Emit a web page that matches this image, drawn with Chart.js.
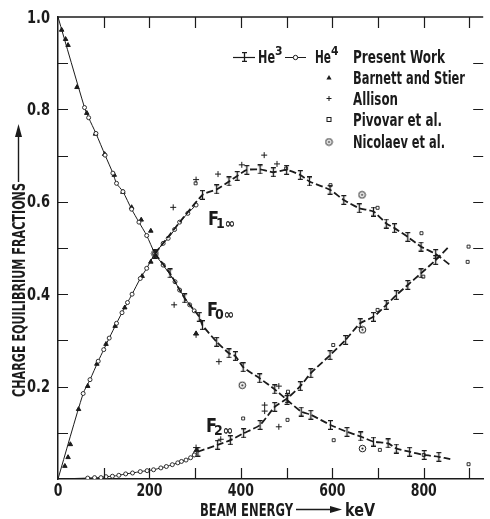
<!DOCTYPE html>
<html>
<head>
<meta charset="utf-8">
<script src="https://cdn.jsdelivr.net/npm/chart.js@4.4.1/dist/chart.umd.min.js"></script>
<style>
html,body{margin:0;padding:0;background:#fff}
#wrap{width:490px;height:519px;position:relative}
</style>
</head>
<body>
<div id="wrap"><canvas id="c"></canvas></div>
<script>
/* ===== charge equilibrium fractions vs beam energy ===== */
const FONT='"DejaVu Sans Condensed","Liberation Sans Narrow",sans-serif';
const INK='#1b1b1b';

// axes
const X_MIN=0, X_MAX=930, Y_MIN=0, Y_MAX=1.0;
const X_TICK_STEP=100, X_LABEL_STEP=200;
const Y_TICK_STEP=0.1, Y_LABEL_STEP=0.2;

// present work, He4 (open circles) -- first point is where the drawn curve starts
const he4F0=[[0,1.0],[58,0.804],[67,0.782],[83,0.748],[103,0.701],[120,0.662],[128,0.64],[142,0.622],[161,0.584],[177,0.556],[194,0.527],[212,0.488],[230,0.463],[256,0.427],[266,0.409],[288,0.377],[298,0.364]];
const he4F1=[[0,0],[55,0.185],[70,0.215],[88,0.255],[100,0.28],[112,0.305],[128,0.337],[140,0.36],[152,0.382],[162,0.40],[180,0.434],[194,0.456],[212,0.488],[230,0.51],[241,0.521],[255,0.54],[266,0.556],[284,0.575],[302,0.593]];
const he4F2=[[0,0],[65,0.002],[80,0.003],[94,0.003],[105,0.005],[119,0.006],[133,0.008],[148,0.011],[163,0.013],[180,0.016],[195,0.018],[209,0.02],[225,0.024],[237,0.027],[250,0.031],[262,0.035],[270,0.038],[280,0.041],[290,0.046],[298,0.052]];

// present work, He3 (error bars) -- last point is where the drawn curve ends
const he3F0=[[212,0.488],[245,0.445],[277,0.391],[309,0.351],[316,0.333],[347,0.297],[374,0.272],[388,0.266],[405,0.242],[441,0.218],[474,0.194],[501,0.171],[532,0.146],[553,0.139],[596,0.117],[632,0.102],[662,0.092],[690,0.081],[722,0.077],[740,0.066],[769,0.059],[801,0.052],[833,0.048],[858,0.043]];
const he3F1=[[212,0.488],[316,0.615],[347,0.627],[374,0.644],[392,0.656],[413,0.669],[442,0.67],[471,0.664],[500,0.669],[530,0.658],[550,0.644],[595,0.626],[625,0.604],[659,0.586],[690,0.579],[718,0.553],[736,0.543],[765,0.524],[794,0.503],[826,0.487],[858,0.463]];
const he3F2=[[306,0.059],[349,0.074],[377,0.084],[406,0.099],[442,0.117],[474,0.156],[502,0.175],[530,0.201],[553,0.229],[595,0.268],[629,0.301],[661,0.337],[690,0.351],[718,0.377],[740,0.398],[765,0.42],[794,0.445],[826,0.474],[855,0.503]];

// other work
const barnett=[[8,0.972],[16.6,0.952],[22,0.939],[41.5,0.848],[63,0.792],[82,0.747],[102,0.703],[123,0.658],[142,0.621],[161,0.588],[182,0.561],[203,0.537],
  [15,0.028],[22,0.047],[27,0.075],[45,0.151],[65,0.201],[85,0.249],[105,0.292],[125,0.331],[146,0.371],[184,0.439],[203,0.47],
  [302,0.315],[303,0.063]];
const allison=[[252,0.588],[302,0.648],[350,0.66],[402,0.68],[451,0.701],[479,0.682],
  [254,0.377],[302,0.312],[352,0.254],[483,0.201],[483,0.113],
  [302,0.068],[356,0.086],[452,0.16],[452,0.147]];
const pivovar=[[301,0.64],[499,0.672],[596,0.636],[699,0.587],[795,0.532],[898,0.503],
  [300,0.056],[405,0.131],[503,0.189],[602,0.29],[699,0.366],[799,0.438],[896,0.47],
  [502,0.128],[603,0.084],[704,0.063],[800,0.052],[898,0.032]];
const nicolaev=[[212,0.488],[665,0.615],[666,0.323],[403,0.203],[666,0.066]];

// legend rows
const legendRows=['Barnett and Stier','Allison','Pivovar et al.','Nicolaev et al.'];
const legendWidths=[112,45,89,92];

const xy=a=>a.map(p=>({x:p[0],y:p[1]}));

// marker glyphs
function markI(h){
  const c=document.createElement('canvas');c.width=7;c.height=h;
  const g=c.getContext('2d');g.strokeStyle=INK;g.lineWidth=1.3;
  g.beginPath();g.moveTo(3.5,0.7);g.lineTo(3.5,h-0.7);
  g.moveTo(1,0.7);g.lineTo(6,0.7);g.moveTo(1,h-0.7);g.lineTo(6,h-0.7);g.stroke();
  return c;
}
function markDotCircle(){
  const c=document.createElement('canvas');c.width=9;c.height=9;
  const g=c.getContext('2d');g.strokeStyle=INK;g.fillStyle=INK;g.lineWidth=1;
  g.beginPath();g.arc(4.5,4.5,3.3,0,Math.PI*2);g.stroke();
  g.beginPath();g.arc(4.5,4.5,1.1,0,Math.PI*2);g.fill();
  return c;
}
const I_MARK=markI(10), NIC_MARK=markDotCircle();

const he4Set=(data)=>({
  type:'line',data:xy(data),borderColor:INK,borderWidth:1,tension:0.25,
  pointStyle:'circle',pointRadius:c=>c.dataIndex===0?0:2,pointBorderWidth:0.9,
  pointBorderColor:INK,pointBackgroundColor:'#fff',fill:false
});
const he3Set=(data)=>({
  type:'line',data:xy(data),borderColor:INK,borderWidth:1.8,borderDash:[7,3],tension:0.2,
  pointStyle:c=>c.dataIndex===data.length-1?false:I_MARK,pointRadius:5,fill:false
});
const scatSet=(data,style,r,fillCol,extra)=>Object.assign({
  type:'scatter',data:xy(data),showLine:false,pointStyle:style,pointRadius:r,
  pointBorderColor:INK,pointBackgroundColor:fillCol,pointBorderWidth:1
},extra||{});

// frame, inward ticks, tick labels, titles, legend, curve labels
const decor={
  id:'decor',
  afterDraw(chart){
    const {ctx,chartArea:a,scales:{x,y}}=chart;
    ctx.save();
    ctx.strokeStyle=INK;ctx.fillStyle=INK;ctx.lineWidth=1.4;
    ctx.beginPath();ctx.moveTo(a.left,a.top);ctx.lineTo(a.right,a.top);ctx.stroke();
    ctx.lineWidth=1.2;
    ctx.beginPath();
    for(let v=X_TICK_STEP;v<X_MAX;v+=X_TICK_STEP){
      const px=Math.round(x.getPixelForValue(v))+0.5;
      ctx.moveTo(px,a.bottom);ctx.lineTo(px,a.bottom-11);
      ctx.moveTo(px,a.top);ctx.lineTo(px,a.top+11);
    }
    for(let i=1;i<10;i++){
      const py=Math.round(y.getPixelForValue(i*Y_TICK_STEP))+0.5;
      ctx.moveTo(a.left,py);ctx.lineTo(a.left+10,py);
      ctx.moveTo(a.right,py);ctx.lineTo(a.right-10,py);
    }
    ctx.stroke();

    // tick labels
    ctx.font='bold 18px '+FONT;
    ctx.textAlign='center';ctx.textBaseline='alphabetic';
    x.ticks.forEach(t=>{
      if(t.value%X_LABEL_STEP!==0)return;
      const s=String(t.value);
      ctx.fillText(s,x.getPixelForValue(t.value),496,s.length*8.7);
    });
    ctx.textAlign='right';ctx.textBaseline='middle';
    y.ticks.forEach(t=>{
      if(t.value===0)return;
      ctx.fillText(t.value.toFixed(1),50,y.getPixelForValue(t.value)+1,23);
    });

    // x title
    ctx.textAlign='left';ctx.textBaseline='alphabetic';
    ctx.fillText('BEAM ENERGY',200,516,93);
    ctx.fillText('keV',345,516,30);
    ctx.lineWidth=1.4;
    ctx.beginPath();ctx.moveTo(296,509.5);ctx.lineTo(332,509.5);ctx.stroke();
    ctx.beginPath();ctx.moveTo(342,509.5);ctx.lineTo(330,506);ctx.lineTo(330,513);ctx.closePath();ctx.fill();

    // y title
    ctx.save();
    ctx.translate(25,397);ctx.rotate(-Math.PI/2);
    ctx.fillText('CHARGE EQUILIBRIUM FRACTIONS',0,0,214);
    ctx.restore();
    ctx.beginPath();ctx.moveTo(18.5,182);ctx.lineTo(18.5,136);ctx.stroke();
    ctx.beginPath();ctx.moveTo(18.5,124);ctx.lineTo(15,137);ctx.lineTo(22,137);ctx.closePath();ctx.fill();

    // curve labels
    const curveLabel=(sub,px,py)=>{
      ctx.font='bold 20px '+FONT;ctx.fillText('F',px,py,11);
      ctx.font='bold 14px '+FONT;ctx.fillText(sub,px+8,py+3,22);
    };
    curveLabel('1\u221e',208,225);
    curveLabel('0\u221e',207,316);
    curveLabel('2\u221e',206,432);

    // legend
    ctx.lineWidth=1.2;
    ctx.beginPath();ctx.moveTo(233,57.5);ctx.lineTo(255,57.5);ctx.stroke();
    ctx.drawImage(I_MARK,241,52);
    ctx.font='bold 17px '+FONT;ctx.fillText('He',258,63,17);
    ctx.font='bold 12px '+FONT;ctx.fillText('3',275,55);
    ctx.lineWidth=1;
    ctx.beginPath();ctx.moveTo(285,57.5);ctx.lineTo(306,57.5);ctx.stroke();
    ctx.beginPath();ctx.arc(295.5,57.5,2.2,0,Math.PI*2);ctx.fillStyle='#fff';ctx.fill();ctx.stroke();
    ctx.fillStyle=INK;
    ctx.font='bold 17px '+FONT;ctx.fillText('He',315,63,16);
    ctx.font='bold 12px '+FONT;ctx.fillText('4',331,55);
    ctx.font='bold 17px '+FONT;ctx.fillText('Present Work',353,63,92);
    const base=[84,105,126,148];
    legendRows.forEach((t,i)=>ctx.fillText(t,353,base[i],legendWidths[i]));
    const sx=329;
    ctx.beginPath();ctx.moveTo(sx,base[0]-9);ctx.lineTo(sx-2.6,base[0]-4.5);ctx.lineTo(sx+2.6,base[0]-4.5);ctx.closePath();ctx.fill();
    ctx.lineWidth=1;
    ctx.beginPath();ctx.moveTo(sx-2.5,base[1]-6.5);ctx.lineTo(sx+2.5,base[1]-6.5);ctx.moveTo(sx,base[1]-9);ctx.lineTo(sx,base[1]-4);ctx.stroke();
    ctx.strokeRect(sx-2,base[2]-8.5,4,4);
    ctx.drawImage(NIC_MARK,sx-4.5,base[3]-10.5);
    ctx.restore();
  }
};

const datasets=[
  he3Set(he3F0),he3Set(he3F1),he3Set(he3F2),
  he4Set(he4F0),he4Set(he4F1),he4Set(he4F2),
  scatSet(barnett,'triangle',2.6,INK),
  scatSet(allison,'cross',3,INK),
  scatSet(pivovar,'rect',2.1,'#fff',{pointBorderWidth:0.9}),
  scatSet(nicolaev,NIC_MARK,4,'#fff')
];

new Chart(document.getElementById('c'),{
  data:{datasets},
  plugins:[decor],
  options:{
    responsive:true,maintainAspectRatio:false,animation:false,
    layout:{padding:{top:17,right:0,left:0,bottom:0}},
    plugins:{legend:{display:false},tooltip:{enabled:false}},
    scales:{
      x:{type:'linear',min:X_MIN,max:X_MAX,
        afterFit:s=>{s.height=40;},
        grid:{display:false,drawTicks:false},
        border:{display:true,color:INK,width:1.5},
        ticks:{display:false,stepSize:X_LABEL_STEP,includeBounds:false}},
      y:{type:'linear',min:Y_MIN,max:Y_MAX,
        afterFit:s=>{s.width=58;},
        grid:{display:false,drawTicks:false},
        border:{display:true,color:INK,width:1.5},
        ticks:{display:false,stepSize:Y_LABEL_STEP}}
    }
  }
});
</script>
</body>
</html>
